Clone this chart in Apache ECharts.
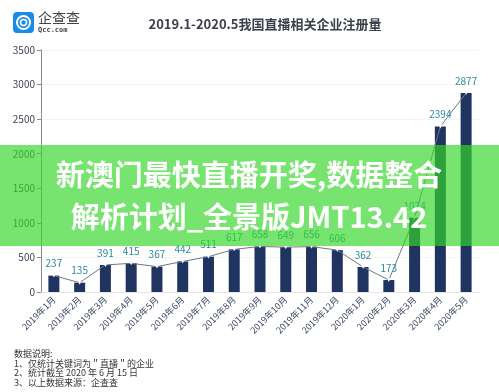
<!DOCTYPE html>
<html><head><meta charset="utf-8">
<script src="https://cdn.jsdelivr.net/npm/echarts@6/dist/echarts.min.js"></script>
<style>html,body{margin:0;padding:0;background:#fff}#c{width:499px;height:392px}</style>
</head><body><div id="c"></div>
<script>
var categories = ['2019年1月','2019年2月','2019年3月','2019年4月','2019年5月','2019年6月','2019年7月','2019年8月','2019年9月','2019年10月','2019年11月','2019年12月','2020年1月','2020年2月','2020年3月','2020年4月','2020年5月'];
var registrations = [237,135,391,415,367,442,511,617,658,649,656,606,362,173,1074,2394,2877];
var yTicks = {min:0, max:3500, interval:500};
var titleText = '2019.1-2020.5我国直播相关企业注册量';
var notes = ['数据说明:','1、仅统计关键词为＂直播＂的企业','2、统计截至 2020 年 6 月 15 日','3、以上数据来源：企查查'];
var bannerLines = ['新澳门最快直播开奖,数据整合','解析计划_全景版JMT13.42'];

var FONT = '"Noto Sans CJK SC","Noto Sans",sans-serif';
var chart = echarts.init(document.getElementById('c'));
var graphics = [
  {type:'text', x:265, y:24, style:{text:titleText, font:'bold 13px '+FONT, fill:'#3a3f4a', align:'center', verticalAlign:'middle'}, z:10},
  {type:'rect', shape:{x:13,y:12,width:21,height:21,r:4}, style:{fill:'#1a8be6'}, z:10},
  {type:'circle', shape:{cx:23.5,cy:22.5,r:6.5}, style:{fill:'none',stroke:'#fff',lineWidth:2}, z:11},
  {type:'circle', shape:{cx:23.5,cy:22.5,r:3}, style:{fill:'none',stroke:'#fff',lineWidth:1.5}, z:11},
  {type:'text', left:38, top:11, style:{text:'企查查', font:'14px '+FONT, fill:'#444'}, z:10},
  {type:'text', left:38, top:27, style:{text:'Qcc.com', font:'bold 7px "DejaVu Sans Mono",monospace', fill:'#444'}, z:10}
];
notes.forEach(function(t,i){
  graphics.push({type:'text', left:14, top:349+i*9.6, style:{text:t, font:'9px '+FONT, fill:'#333'}, z:10});
});
graphics.push({type:'rect', shape:{x:0,y:145,width:499,height:101}, style:{fill:'rgba(52,214,40,0.67)'}, z:100});
bannerLines.forEach(function(t,i){
  graphics.push({type:'text', x:249, y:175+i*42, style:{text:t, font:'bold 29px '+FONT, fill:'#fff', align:'center', verticalAlign:'middle'}, z:101});
});

chart.setOption({
  animation:false,
  grid:{left:41, right:20, top:50, bottom:100, containLabel:false},
  xAxis:{type:'category', data:categories,
    axisLine:{lineStyle:{color:'#e6e6e6'}}, axisTick:{show:false},
    axisLabel:{rotate:45, interval:0, fontSize:9, color:'#3b4763', fontFamily:FONT, margin:6}},
  yAxis:{type:'value', min:yTicks.min, max:yTicks.max, interval:yTicks.interval,
    axisLine:{show:true, lineStyle:{color:'#8c8c8c'}}, axisTick:{show:true, length:4, lineStyle:{color:'#8c8c8c'}},
    axisLabel:{fontSize:10, color:'#3b4152', fontFamily:FONT, margin:6, formatter:function(v){return String(v);}},
    splitLine:{lineStyle:{color:'#f2f4f6'}}},
  series:[
    {type:'bar', data:registrations, barWidth:11, itemStyle:{color:'#1f3461'}, z:2},
    {type:'line', data:registrations, symbol:'triangle', symbolRotate:180, symbolSize:4,
      itemStyle:{color:'#fff'}, lineStyle:{color:'#6c7785', width:1}, z:3,
      label:{show:true, position:'top', distance:5, color:'#2b8a9c', fontSize:10, fontFamily:FONT}}
  ],
  graphic:graphics
});
</script></body></html>
